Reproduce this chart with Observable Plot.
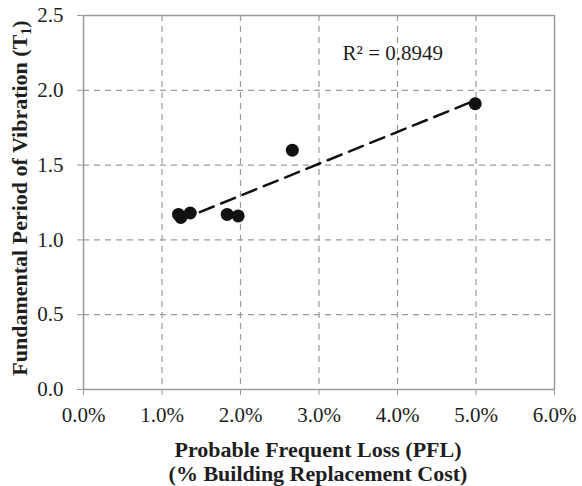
<!DOCTYPE html>
<html>
<head>
<meta charset="utf-8">
<script src="https://cdn.jsdelivr.net/npm/d3@7"></script>
<script src="https://cdn.jsdelivr.net/npm/@observablehq/plot@0.6"></script>
<style>
  html, body { margin: 0; padding: 0; background: #fff; }
  #chart { width: 582px; height: 486px; }
</style>
</head>
<body>
<div id="chart"></div>
<script>
// Data
const pfl = [0.0121, 0.0124, 0.0136, 0.0183, 0.0197, 0.0266, 0.0499];
const period = [1.17, 1.15, 1.18, 1.17, 1.16, 1.60, 1.91];
const xTicks = [0, 0.01, 0.02, 0.03, 0.04, 0.05, 0.06];
const yTicks = [0, 0.5, 1.0, 1.5, 2.0, 2.5];
const r2Label = ["R² = 0.8949"];
const r2Pos = [{x: 0.0394, y: 2.25}];

const points = pfl.map((x, i) => ({x, y: period[i]}));

const gridStyle = {stroke: "#9a9a9a", strokeOpacity: 1, strokeWidth: 1.2, strokeDasharray: "6,5"};

const plot = Plot.plot({
  width: 582,
  height: 486,
  marginLeft: 83,
  marginRight: 28,
  marginTop: 15,
  marginBottom: 97,
  style: {fontFamily: "'Liberation Serif', 'Times New Roman', serif", fontSize: "21px", color: "#1e1e1e", background: "#fff"},
  x: {domain: [0, 0.06]},
  y: {domain: [0, 2.5]},
  marks: [
    Plot.gridX(xTicks.slice(1, -1), gridStyle),
    Plot.gridY(yTicks.slice(1, -1), gridStyle),
    Plot.frame({stroke: "#9a9a9a", strokeWidth: 1.5}),
    Plot.axisX({ticks: xTicks, tickFormat: d3.format(".1%"), tickSize: 6, tickPadding: 12, stroke: "#9a9a9a", label: null, fontSize: 21}),
    Plot.axisY({ticks: yTicks, tickFormat: d3.format(".1f"), tickSize: 6, tickPadding: 14, stroke: "#9a9a9a", label: null, fontSize: 21}),
    Plot.linearRegressionY(points, {x: "x", y: "y", ci: 0, stroke: "#111", strokeWidth: 2.5, strokeDasharray: "15,8"}),
    Plot.dot(points, {x: "x", y: "y", r: 6.5, fill: "#111", stroke: "none"}),
    Plot.text(r2Label, {x: () => r2Pos[0].x, y: () => r2Pos[0].y, text: d => d, fontSize: 21, fill: "#1e1e1e"})
  ]
});

const svg = d3.select(plot);
// Y axis title with subscript
const yt = svg.append("text")
  .attr("transform", "translate(27,198) rotate(-90)")
  .attr("text-anchor", "middle")
  .attr("font-weight", "bold")
  .attr("font-size", 22)
  .attr("fill", "#1e1e1e");
yt.append("tspan").text("Fundamental Period of Vibration (T");
yt.append("tspan").attr("font-size", 14).attr("dy", 4).text("1");
yt.append("tspan").attr("dy", -4).text(")");

// X axis title (two lines)
const xt = svg.append("text")
  .attr("text-anchor", "middle")
  .attr("font-weight", "bold")
  .attr("font-size", 22)
  .attr("fill", "#1e1e1e");
xt.append("tspan").attr("x", 318).attr("y", 457).text("Probable Frequent Loss (PFL)");
xt.append("tspan").attr("x", 318).attr("y", 481).text("(% Building Replacement Cost)");

document.getElementById("chart").appendChild(plot);
</script>
</body>
</html>
